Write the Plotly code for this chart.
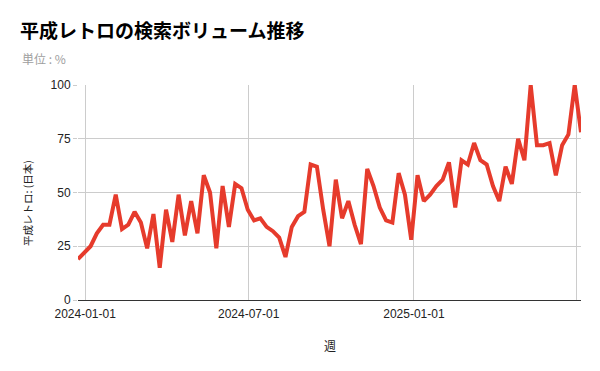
import pandas as pd
import plotly.graph_objects as go

# Weekly dates (Google Trends style, weeks starting Sunday)
weeks = pd.date_range("2023-12-24", periods=81, freq="7D")

# Search volume (%)
volume = [19, 22, 25, 31, 35, 35, 49, 33, 35, 41,
          36, 24, 40, 15, 42, 27, 49, 30, 46, 31,
          58, 50, 24, 53, 34, 54, 52, 42, 37, 38,
          34, 32, 29, 20, 34, 39, 41, 63, 62, 42,
          25, 56, 38, 46, 35, 26, 61, 53, 43, 37,
          36, 59, 49, 28, 58, 46, 49, 53, 56, 64,
          43, 65, 63, 73, 65, 63, 53, 46, 62, 54,
          75, 65, 100, 72, 72, 73, 58, 72, 77, 100, 78]

x_tick_vals = ["2024-01-01", "2024-07-01", "2025-01-01", "2025-07-01"]
x_tick_text = ["2024-01-01", "2024-07-01", "2025-01-01", ""]
y_tick_vals = [0, 25, 50, 75, 100]

title_text = "平成レトロの検索ボリューム推移"
subtitle_text = "単位 : %"
y_title = "平成レトロ: (日本)"
x_title = "週"

FONT = "Liberation Sans, Arial, 'Noto Sans CJK JP', sans-serif"
CJK = "'Noto Sans CJK JP', sans-serif"

fig = go.Figure(go.Scatter(
    x=weeks, y=volume, mode="lines",
    line=dict(color="#e63b2c", width=4),
    hoverinfo="skip",
))

W, H = 600, 371
L, R, T, B = 78, 19, 85, 71
pw, ph = W - L - R, H - T - B

def px_x(p):
    return (p - L) / pw

def px_y(p):
    return (H - B - p) / ph

fig.update_layout(
    width=W, height=H,
    margin=dict(l=L, r=R, t=T, b=B),
    paper_bgcolor="white", plot_bgcolor="white",
    showlegend=False,
    font=dict(family=FONT, size=12, color="#222"),
    title=dict(
        text=f"<b>{title_text}</b>",
        font=dict(family=CJK, size=19, color="#000"),
        xref="container", yref="container",
        x=20 / W, xanchor="left",
        y=1 - 31 / H, yanchor="middle",
    ),
    xaxis=dict(
        range=[weeks[0], weeks[-1]],
        tickmode="array", tickvals=x_tick_vals, ticktext=x_tick_text,
        showgrid=True, gridcolor="#cccccc", gridwidth=1,
        showline=True, linecolor="#333333", linewidth=1,
        ticks="outside", ticklen=3, tickcolor="rgba(0,0,0,0)",
        tickfont=dict(size=12, color="#222"),
        zeroline=False,
    ),
    yaxis=dict(
        range=[0, 100],
        tickmode="array", tickvals=y_tick_vals,
        showgrid=True, gridcolor="#cccccc", gridwidth=1,
        showline=False, zeroline=False,
        ticks="outside", ticklen=4, tickcolor="#cccccc",
        tickfont=dict(size=12, color="#222"),
    ),
    annotations=[
        dict(text=subtitle_text, xref="paper", yref="paper",
             x=px_x(20), y=px_y(58), xanchor="left", yanchor="middle",
             showarrow=False, font=dict(family=CJK, size=12, color="#9e9e9e")),
        dict(text=y_title, xref="paper", yref="paper",
             x=px_x(27), y=px_y(203), xanchor="center", yanchor="middle",
             textangle=-90, showarrow=False,
             font=dict(family=CJK, size=10.5, color="#222")),
        dict(text=x_title, xref="paper", yref="paper",
             x=px_x(330), y=px_y(345), xanchor="center", yanchor="middle",
             showarrow=False, font=dict(family=CJK, size=12, color="#222")),
    ],
)

fig.write_html("out.html")
